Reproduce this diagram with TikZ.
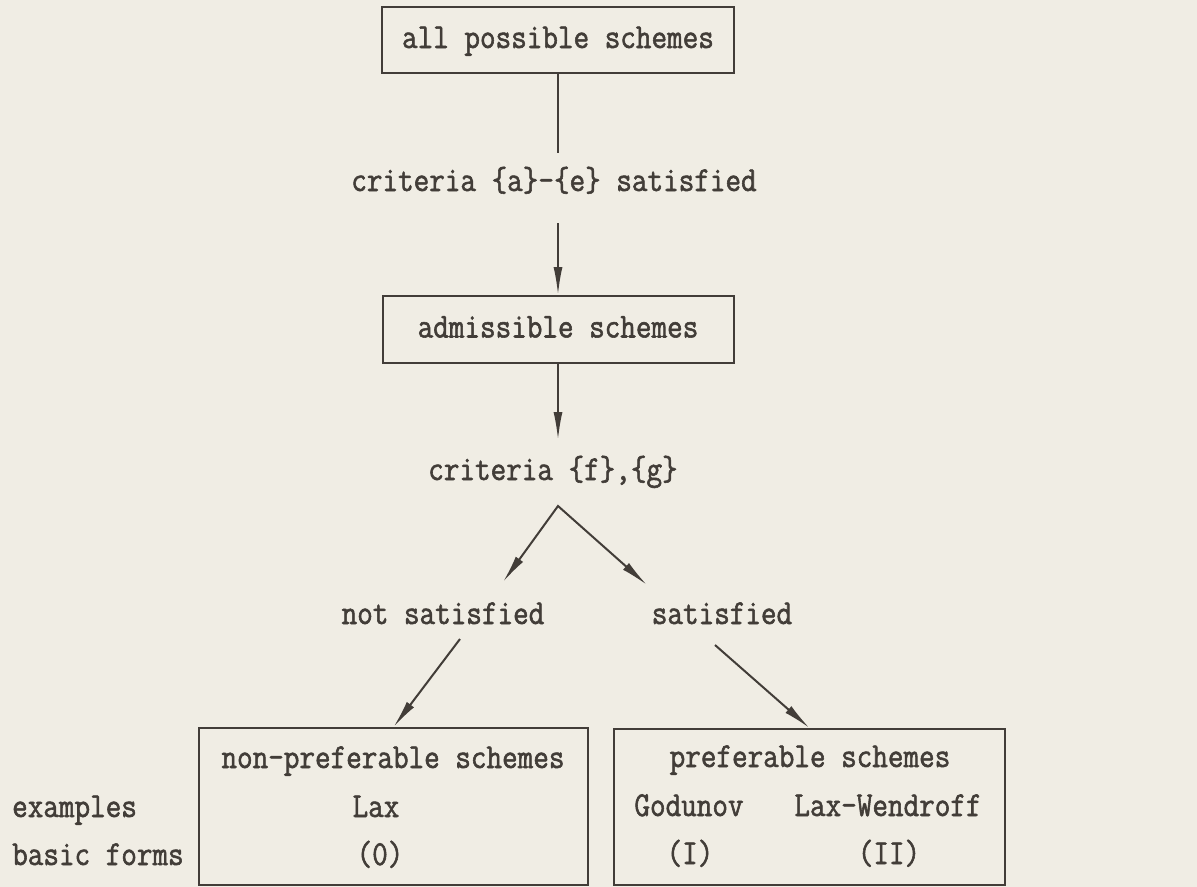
\documentclass[tikz,border=0pt]{standalone}
\usepackage{fontspec}
\newfontfamily\twfont[FakeStretch=0.865,FakeBold=1.6]{Latin Modern Mono}
\usetikzlibrary{arrows.meta}
\definecolor{ink}{RGB}{66,61,56}
\definecolor{paper}{RGB}{240,237,228}
\begin{document}
\begin{tikzpicture}[x=1bp,y=-1bp,
  every node/.style={font=\twfont\fontsize{35bp}{42bp}\selectfont, text=ink, inner sep=0pt, text height=23bp, text depth=7bp},
  boxed/.style={draw=ink, line width=2bp},
  conn/.style={draw=ink, line width=2bp},
  arr/.style={conn, -{Latex[length=28bp,width=9bp]}},
  arrboth/.style={conn, line join=miter, {Latex[length=28bp,width=9bp]}-{Latex[length=28bp,width=9bp]}}]
\fill[paper] (0,0) rectangle (1197,887);
\useasboundingbox (0,0) rectangle (1197,887);
% boxes and labels
\node[boxed, minimum width=352bp, minimum height=66bp] (all) at (558,40) {all possible schemes};
\node (c1) at (554,183) {criteria \{a\}-\{e\} satisfied};
\node[boxed, minimum width=351bp, minimum height=67bp] (adm) at (558,329.5) {admissible schemes};
\node (c2) at (553,472) {criteria \{f\},\{g\}};
\node (ns) at (443,616) {not satisfied};
\node (sat) at (722,616) {satisfied};
\node[boxed, minimum width=389bp, minimum height=157bp] (lbox) at (393.5,806.5) {};
\node[boxed, minimum width=391bp, minimum height=156bp] (rbox) at (809.5,807) {};
\node (np) at (393,760) {non-preferable schemes};
\node (pf) at (810,759) {preferable schemes};
\node[anchor=west] (ex) at (12,809) {examples};
\node[anchor=west] (bf) at (12,857) {basic forms};
\node (lax) at (376,809) {Lax};
\node (b0) at (380,857) {(0)};
\node (god) at (689,808) {Godunov};
\node (lw) at (888,808) {Lax-Wendroff};
\node (b1) at (690,856) {(I)};
\node (b2) at (889,856) {(II)};
% connector end points
\coordinate (e1) at (558,153);
\coordinate (s2) at (558,223);
\coordinate (e3) at (558,440);
\coordinate (apex) at (558,506);
\coordinate (tipL) at (503,582);
\coordinate (tipR) at (647,585);
\coordinate (sL) at (460,639);
\coordinate (sR) at (715,645);
% connectors
\draw[conn] (all.south) -- (e1);
\draw[arr] (s2) -- (adm.north);
\draw[arr] (adm.south) -- (e3);
\draw[arrboth] (tipL) -- (apex) -- (tipR);
\draw[arr] (sL) -- (lbox.north);
\draw[arr] (sR) -- (rbox.north);
\end{tikzpicture}
\end{document}
